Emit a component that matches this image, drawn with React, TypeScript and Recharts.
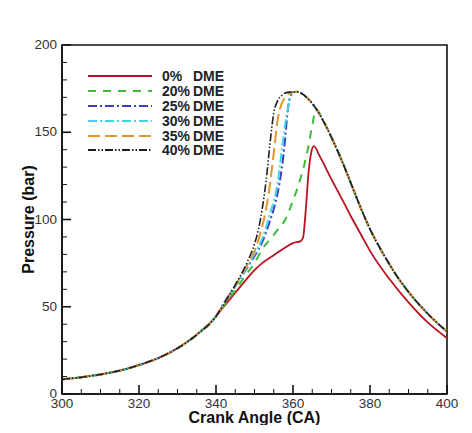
import React from 'react';
import { LineChart, Line, XAxis, YAxis, Label, Legend, ReferenceArea } from 'recharts';

// compression part, same for every blend
const baseAngle = [300, 305, 310, 315, 320, 325, 330, 335, 340];
const basePressure = [8.4, 9.6, 11.2, 13.4, 16.6, 20.6, 26.2, 34, 44.5];

// expansion part shared by the DME blends
const tailAngle = [360, 361, 362, 364, 366, 368, 370, 373, 375, 378, 380, 383, 385, 387, 390, 395, 400];
const tailPressure = [173, 173.2, 172.5, 169, 163.5, 156, 147, 132, 121, 104.5, 94.5, 82, 74.5, 67.5, 58.5, 46, 35.7];

const dme0Angle = [342, 345, 348, 350, 352, 355, 358, 360, 362, 362.6, 363.3, 364, 364.7, 365.4, 367, 370, 373, 375, 378, 380, 385, 390, 395, 400];
const dme0Pressure = [50, 58, 66, 71, 75, 79.5, 84, 86.5, 87.6, 89.5, 105, 126, 138, 142, 136, 123, 110.5, 102, 90, 82, 66, 52.5, 41, 32];

const dme20Angle = [342, 345, 348, 350, 352, 354, 356, 358, 359, 360, 361, 362, 363, 364, 365, 366];
const dme20Pressure = [50.5, 59.5, 69, 75, 83, 88.5, 94, 100, 105, 111, 117, 124, 132, 142, 154, 163];

const dme25Angle = [342, 345, 348, 350, 352, 354, 355, 356, 357, 358, 358.5, 359, 359.5];
const dme25Pressure = [52, 62, 72, 79, 87, 99, 106, 115, 128, 147, 160, 168, 171.5];

const dme30Angle = [342, 345, 348, 350, 352, 354, 356, 357, 358, 359, 359.5];
const dme30Pressure = [51.5, 61.5, 72.5, 80, 89, 103, 121, 138, 155, 167, 171];

const dme35Angle = [342, 345, 348, 350, 352, 353, 354, 355, 356, 357, 358, 359];
const dme35Pressure = [51.5, 62, 73.5, 82, 96, 106, 120, 138, 157, 166, 170, 172.3];

const dme40Angle = [342, 345, 348, 350, 351, 352, 353, 354, 355, 356, 357, 358, 359];
const dme40Pressure = [51.5, 62.5, 75, 86, 94, 106, 122, 143, 161, 168, 171, 172.5, 173];

const xTicks = [300, 305, 310, 315, 320, 325, 330, 335, 340, 345, 350, 355, 360, 365, 370, 375, 380, 385, 390, 395, 400];
const yTicks = [0, 10, 20, 30, 40, 50, 60, 70, 80, 90, 100, 110, 120, 130, 140, 150, 160, 170, 180, 190, 200];

const zip = (angles: number[], pressures: number[]) =>
  angles.map((angle, i) => ({ angle, pressure: pressures[i] }));

const build = (angles: number[], pressures: number[], withTail: boolean) => {
  const pts = [...zip(baseAngle, basePressure), ...zip(angles, pressures)];
  if (!withTail) return pts;
  const last = angles[angles.length - 1];
  return [...pts, ...zip(tailAngle, tailPressure).filter((p) => p.angle > last)];
};

const series = [
  { pct: '0%', data: build(dme0Angle, dme0Pressure, false), color: '#b8141f', dash: undefined, width: 1.8 },
  { pct: '20%', data: build(dme20Angle, dme20Pressure, true), color: '#3dbb3d', dash: '8 7', width: 2 },
  { pct: '25%', data: build(dme25Angle, dme25Pressure, true), color: '#3b3fc4', dash: '9 3 2 3', width: 2 },
  { pct: '30%', data: build(dme30Angle, dme30Pressure, true), color: '#3fd4e6', dash: '9 3 2 3', width: 2 },
  { pct: '35%', data: build(dme35Angle, dme35Pressure, true), color: '#e5952c', dash: '12 5', width: 2 },
  { pct: '40%', data: build(dme40Angle, dme40Pressure, true), color: '#1f1f1f', dash: '8 2 1.5 2 1.5 2', width: 1.6 },
];

const AXIS = '#111';
const TICK_TEXT = '#333';

const XTick = ({ x, y, payload }: any) => {
  const major = payload.value % 20 === 0;
  return (
    <g>
      <line x1={x} y1={y} x2={x} y2={y - (major ? 9 : 5)} stroke={AXIS} strokeWidth={major ? 1.6 : 1} />
      {major && (
        <text x={x} y={y + 14} textAnchor="middle" fontSize={13.5} fill={TICK_TEXT}>
          {payload.value}
        </text>
      )}
    </g>
  );
};

const YTick = ({ x, y, payload }: any) => {
  const major = payload.value % 50 === 0;
  return (
    <g>
      <line x1={x} y1={y} x2={x + (major ? 9 : 5)} y2={y} stroke={AXIS} strokeWidth={major ? 1.6 : 1} />
      {major && (
        <text x={x - 5} y={y + 4} textAnchor="end" fontSize={13.5} fill={TICK_TEXT}>
          {payload.value}
        </text>
      )}
    </g>
  );
};

const renderLegend = () => (
  <div>
    {series.map((s) => (
      <div key={s.pct} style={{ display: 'flex', alignItems: 'center', height: 14.8 }}>
        <svg width={64} height={6}>
          <line x1={0} y1={3} x2={64} y2={3} stroke={s.color} strokeWidth={2} strokeDasharray={s.dash} />
        </svg>
        <span style={{ display: 'inline-block', width: 31, marginLeft: 10, fontWeight: 'bold', fontSize: 14, color: '#222' }}>{s.pct}</span>
        <span style={{ fontWeight: 'bold', fontSize: 14, color: '#222' }}>DME</span>
      </div>
    ))}
  </div>
);

const PressureChart = () => {
  return (
    <div style={{ margin: -8, width: 472, height: 433, background: '#f2dcdc', position: 'relative' }}>
      <div style={{ position: 'absolute', left: 8, top: 2, width: 464, height: 431, background: '#fff' }}>
        <LineChart
          width={464}
          height={431}
          margin={{ top: 43, right: 25, left: 10, bottom: 3 }}
          style={{ fontFamily: '"Liberation Sans", Arial, sans-serif' }}
        >
          <XAxis
            dataKey="angle"
            type="number"
            domain={[300, 400]}
            ticks={xTicks}
            interval={0}
            allowDataOverflow
            height={36}
            tickSize={0}
            tickMargin={0}
            tickLine={false}
            tick={<XTick />}
            axisLine={{ stroke: AXIS, strokeWidth: 1.6 }}
          >
            <Label value="Crank Angle (CA)" position="insideBottom" offset={7} style={{ fontSize: 16, fontWeight: 'bold', fill: '#111' }} />
          </XAxis>
          <YAxis
            type="number"
            domain={[0, 200]}
            ticks={yTicks}
            interval={0}
            allowDataOverflow
            width={44}
            tickSize={0}
            tickMargin={0}
            tickLine={false}
            tick={<YTick />}
            axisLine={{ stroke: AXIS, strokeWidth: 1.6 }}
          >
            <Label value="Pressure (bar)" angle={-90} position="insideLeft" offset={10} style={{ fontSize: 16, fontWeight: 'bold', fill: '#111', textAnchor: 'middle' }} />
          </YAxis>
          <ReferenceArea x1={300} x2={400} y1={0} y2={200} fill="none" stroke={AXIS} strokeWidth={1.6} />
          <Legend
            layout="vertical"
            align="center"
            verticalAlign="middle"
            content={renderLegend}
            wrapperStyle={{ left: 80, top: 67, width: 170 }}
          />
          {series.map((s) => (
            <Line
              key={s.pct}
              data={s.data}
              dataKey="pressure"
              type="monotone"
              stroke={s.color}
              strokeWidth={s.width}
              strokeDasharray={s.dash}
              dot={false}
              activeDot={false}
              isAnimationActive={false}
            />
          ))}
        </LineChart>
      </div>
    </div>
  );
};

export default function App() {
  return <PressureChart />;
}
